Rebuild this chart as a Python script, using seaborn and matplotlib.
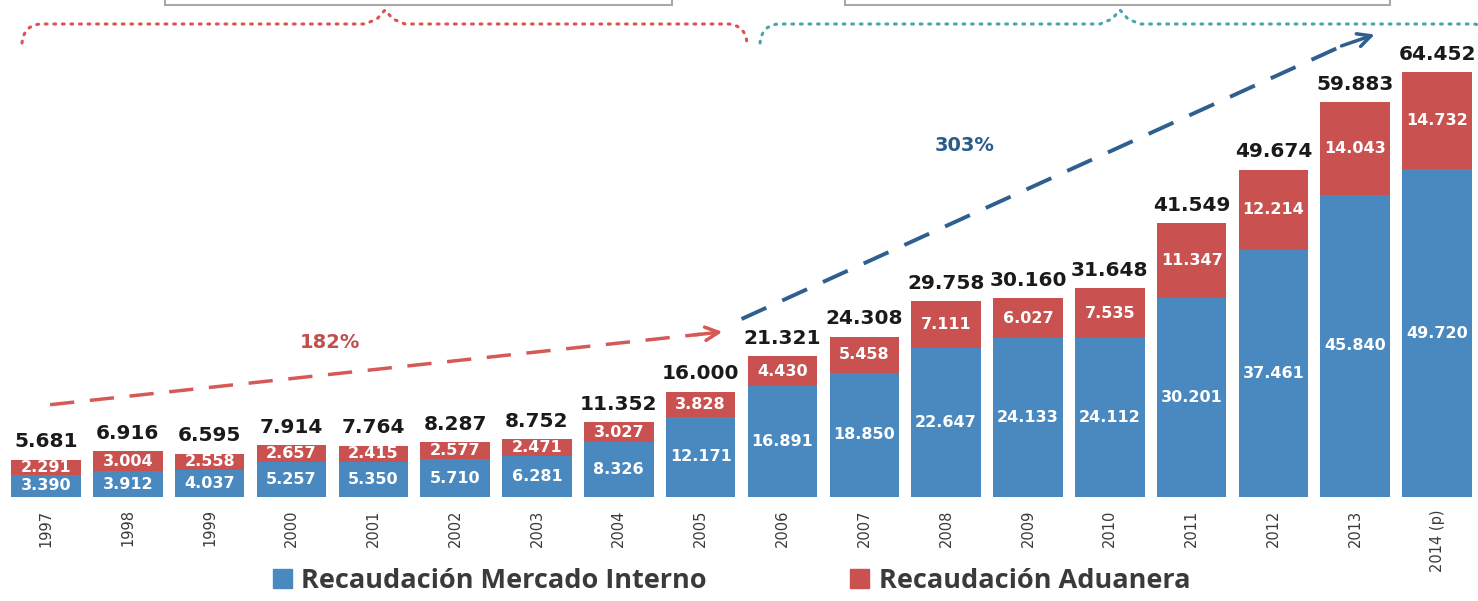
import matplotlib
matplotlib.use('Agg')  # Non-interactive backend
import matplotlib.pyplot as plt
import seaborn as sns
import numpy as np
import pandas as pd
from matplotlib.patches import Patch, Rectangle
from matplotlib.lines import Line2D

# Datos (millones)
anios = ['1997', '1998', '1999', '2000', '2001', '2002', '2003', '2004', '2005',
         '2006', '2007', '2008', '2009', '2010', '2011', '2012', '2013', '2014 (p)']
interno = [3390, 3912, 4037, 5257, 5350, 5710, 6281, 8326, 12171,
           16891, 18850, 22647, 24133, 24112, 30201, 37461, 45840, 49720]
aduanera = [2291, 3004, 2558, 2657, 2415, 2577, 2471, 3027, 3828,
            4430, 5458, 7111, 6027, 7535, 11347, 12214, 14043, 14732]
totales = [5681, 6916, 6595, 7914, 7764, 8287, 8752, 11352, 16000,
           21321, 24308, 29758, 30160, 31648, 41549, 49674, 59883, 64452]

AZUL = '#4a89c0'
ROJO = '#c9514f'
GRIS = '#3a3a3a'

W, H = 1478, 601


def fmt(v):
    return f"{v:,}".replace(',', '.')


def fx(px):
    return px / W


def fy(py):
    return 1 - py / H


sns.set_style("white")
plt.rcParams['font.family'] = ['DejaVu Sans']

fig = plt.figure(figsize=(W / 100, H / 100), dpi=100)
ax = fig.add_axes([0, fy(497), 1, 497 / H])

df = pd.DataFrame({'anio': anios, 'interno': interno, 'aduanera': aduanera})
sns.barplot(data=df, x='anio', y='interno', color=AZUL, saturation=1,
            width=0.85, errorbar=None, linewidth=0, ax=ax)
sns.barplot(data=df, x='anio', y='aduanera', color=ROJO, saturation=1,
            width=0.85, errorbar=None, linewidth=0, bottom=np.array(interno), ax=ax)

# Etiquetas de valores
for i in range(len(anios)):
    ax.text(i, interno[i] / 2, fmt(interno[i]), ha='center', va='center',
            color='white', fontsize=11.5, fontweight='bold')
    ax.text(i, interno[i] + aduanera[i] / 2, fmt(aduanera[i]), ha='center',
            va='center', color='white', fontsize=11.5, fontweight='bold')
    ax.annotate(fmt(totales[i]), (i, totales[i]), xytext=(0, 6),
                textcoords='offset points', ha='center', va='bottom',
                fontsize=14.5, fontweight='bold', color='#1a1a1a')

ax.set_xlim(-0.562, 17.50)
ax.set_ylim(0, 75400)
ax.set_yticks([])
ax.set_xlabel('')
ax.set_ylabel('')
ax.set_xticks(range(len(anios)))
ax.set_xticklabels(anios, rotation=90, fontsize=10.5, color=GRIS)
ax.tick_params(axis='x', length=0, pad=9)
sns.despine(ax=ax, left=True, bottom=True)

# Flechas de crecimiento
ax.plot([0.05, 8.0], [14000, 24700], color='#d55a55', lw=2.5, dashes=(7, 4.5))
ax.annotate('', xy=(8.3, 25100), xytext=(7.9, 24550),
            arrowprops=dict(arrowstyle='->', color='#d55a55', lw=2.5, mutation_scale=24))
ax.text(3.47, 23500, '182%', color='#c0504d', fontsize=14, fontweight='bold',
        ha='center', va='center')

ax.plot([8.5, 15.85], [27000, 68500], color='#2e5f8f', lw=2.8, dashes=(7, 4.5))
ax.annotate('', xy=(16.27, 70300), xytext=(15.8, 68300),
            arrowprops=dict(arrowstyle='->', color='#2e5f8f', lw=2.5, mutation_scale=24))
ax.text(11.23, 53400, '303%', color='#2b5d8c', fontsize=14, fontweight='bold',
        ha='center', va='center')

# Cajas superiores (cortadas)
for x0, x1 in [(165, 672), (845, 1390)]:
    fig.add_artist(Rectangle((fx(x0), fy(5)), fx(x1 - x0), 0.1,
                             transform=fig.transFigure, facecolor='white',
                             edgecolor='#a8a8a8', lw=1.5))


# Llaves punteadas
def llave(x0, x1, xm, color):
    t = np.linspace(0, np.pi / 2, 6)
    izq_x = x0 + 18 * (1 - np.cos(t))
    izq_y = 43 - 19 * np.sin(t)
    pico_x = [xm - 20, xm - 8, xm, xm + 8, xm + 20]
    pico_y = [24, 19, 10, 19, 24]
    der_x = x1 - 18 * (1 - np.cos(t[::-1]))
    der_y = 43 - 19 * np.sin(t[::-1])
    xs = np.concatenate([izq_x, pico_x, der_x])
    ys = np.concatenate([izq_y, pico_y, der_y])
    fig.add_artist(Line2D(fx(xs), fy(ys), transform=fig.transFigure,
                          color=color, lw=2.2, linestyle=(0, (0.6, 2.2)),
                          dash_capstyle='round'))


llave(22, 747, 385, '#d9534f')
llave(760, 1492, 1120, '#4aa3b0')

# Leyenda
handles = [Patch(color=AZUL, label='Recaudación Mercado Interno'),
           Patch(color=ROJO, label='Recaudación Aduanera')]
fig.legend(handles=handles, loc='center', bbox_to_anchor=(0.495, fy(581)),
           ncol=2, frameon=False,
           prop=dict(family='Open Sans', weight='bold', size=19.5),
           handlelength=0.7, handleheight=0.7, handletextpad=0.35,
           columnspacing=5.3, labelcolor=GRIS)

plt.savefig('out.png', dpi=100)
plt.close()
